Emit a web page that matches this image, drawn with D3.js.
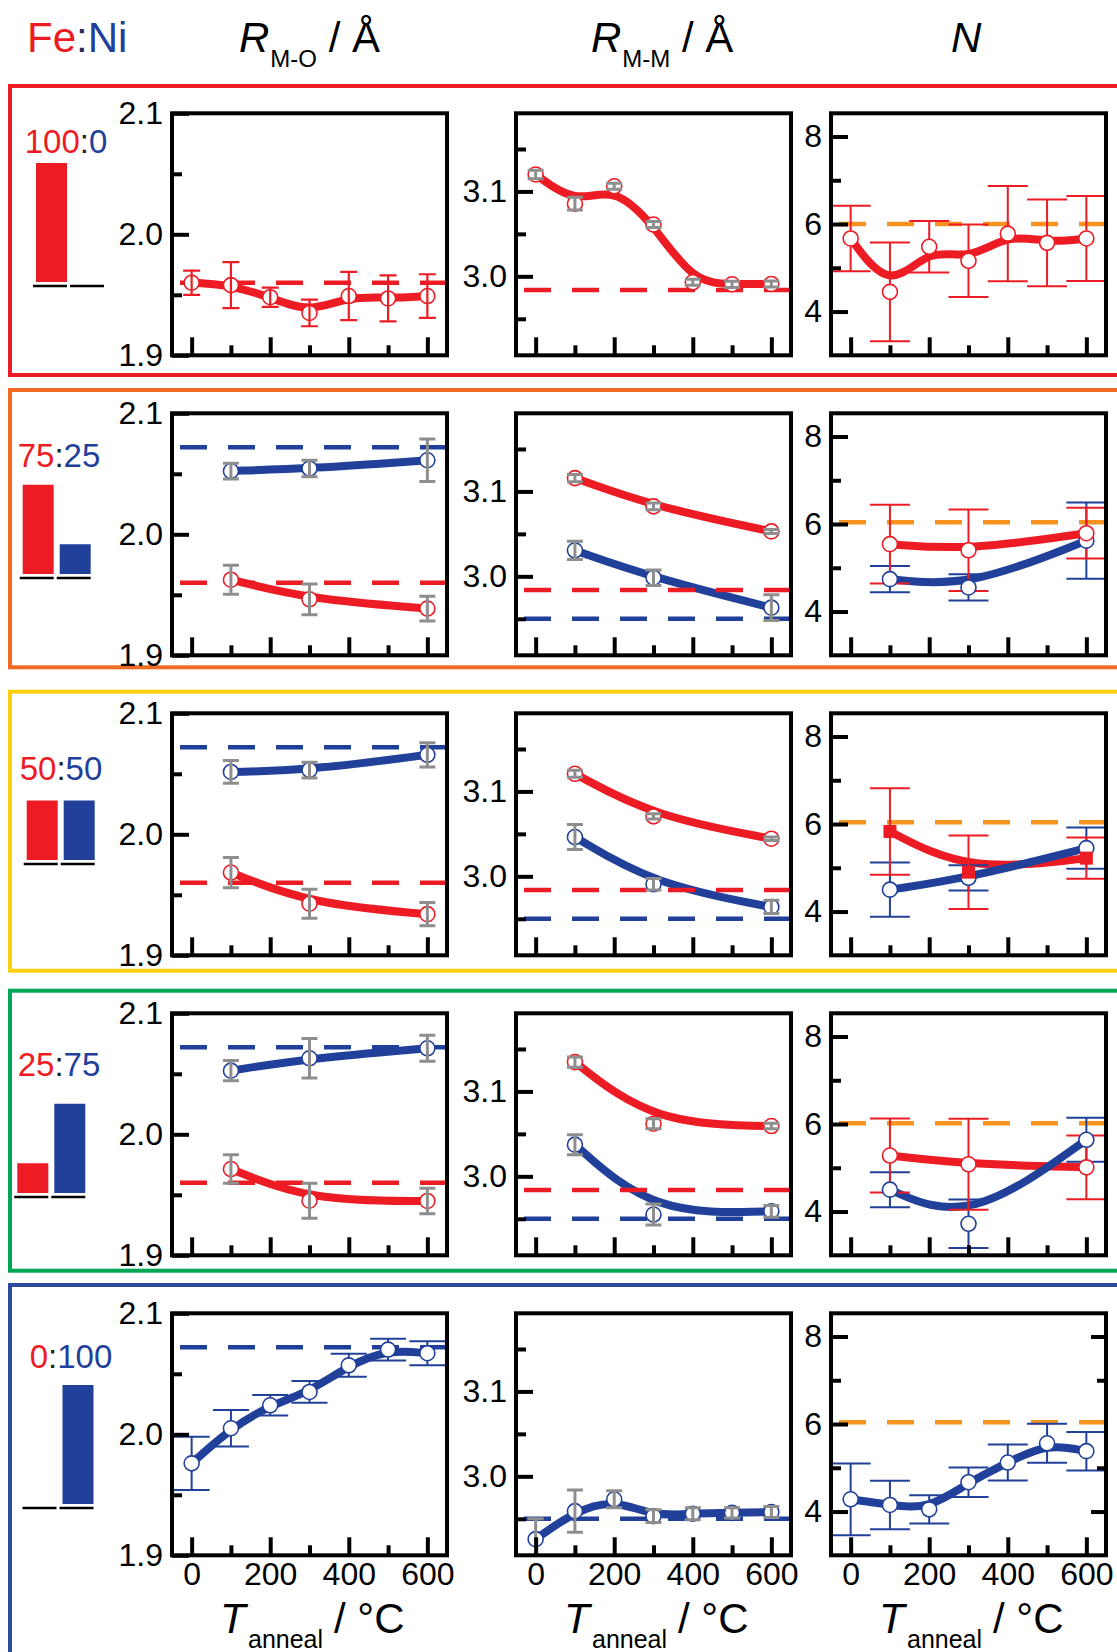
<!DOCTYPE html>
<html>
<head>
<meta charset="utf-8">
<script src="https://cdn.jsdelivr.net/npm/d3@7/dist/d3.min.js"></script>
<style>
  html, body { margin: 0; padding: 0; background: #fff; }
  svg { display: block; }
  text { font-family: "Liberation Sans", Arial, Helvetica, sans-serif; }
</style>
</head>
<body>
<svg id="fig" width="1117" height="1652"></svg>
<script>
// ---------------- data ----------------
// annealing temperatures (°C)
const tempsFull = [0, 100, 200, 300, 400, 500, 600];
const tempsAlloy = [100, 300, 600];
const xMajorTicks = [0, 200, 400, 600];
const xMinorTicks = [100, 300, 500];

// Fe:Ni composition of each row (at.%)
const compFe = [100, 75, 50, 25, 0];
const compNi = [0, 25, 50, 75, 100];

// reference values of the parent oxides
const refRmoFe = 1.960, refRmoNi = 2.072;
const refRmmFe = 2.984, refRmmNi = 2.950;
const refN = [6.00, 6.04, 6.04, 6.02, 6.04];

// 100:0
const r1RmoFe = [1.960, 1.958, 1.948, 1.935, 1.949, 1.947, 1.949];
const r1RmoFeErr = [0.010, 0.019, 0.008, 0.011, 0.020, 0.019, 0.018];
const r1RmmFe = [3.120, 3.0855, 3.106, 3.061, 2.993, 2.9906, 2.991];
const r1RmmFeErr = [0.005, 0.0075, 0.0035, 0.0035, 0.0035, 0.0037, 0.0035];
const r1NFe = [5.67, 4.45, 5.48, 5.16, 5.78, 5.57, 5.67];
const r1NFeErr = [0.75, 1.13, 0.59, 0.83, 1.09, 0.99, 0.97];

// 75:25
const r2RmoFe = [1.9625, 1.9463, 1.9386];
const r2RmoFeErr = [0.012, 0.0127, 0.0103];
const r2RmoNi = [2.0523, 2.0543, 2.0612];
const r2RmoNiErr = [0.0065, 0.0068, 0.0175];
const r2RmmFe = [3.1157, 3.0824, 3.0529];
const r2RmmFeErr = [0.0043, 0.004, 0.0024];
const r2RmmNi = [3.0306, 2.9984, 2.9631];
const r2RmmNiErr = [0.0108, 0.0092, 0.0151];
const r2NFe = [5.54, 5.40, 5.79];
const r2NFeErr = [0.90, 0.93, 0.58];
const r2NNi = [4.74, 4.55, 5.62];
const r2NNiErr = [0.30, 0.30, 0.87];

// 50:50
const r3RmoFe = [1.9684, 1.9426, 1.9340];
const r3RmoFeErr = [0.0125, 0.012, 0.0096];
const r3RmoNi = [2.0515, 2.0531, 2.0657];
const r3RmoNiErr = [0.0094, 0.0065, 0.010];
const r3RmmFe = [3.1208, 3.0706, 3.0443];
const r3RmmFeErr = [0.004, 0.003, 0.002];
const r3RmmNi = [3.0463, 2.9906, 2.9639];
const r3RmmNiErr = [0.0147, 0.0067, 0.0078];
const r3NFe = [5.83, 4.90, 5.22];
const r3NFeErr = [0.99, 0.84, 0.47];
const r3NNi = [4.50, 4.77, 5.45];
const r3NNiErr = [0.62, 0.29, 0.47];

// 25:75
const r4RmoFe = [1.9713, 1.9451, 1.9449];
const r4RmoFeErr = [0.0117, 0.0145, 0.0106];
const r4RmoNi = [2.0526, 2.0628, 2.0711];
const r4RmoNiErr = [0.0083, 0.0163, 0.0107];
const r4RmmFe = [3.1345, 3.062, 3.0592];
const r4RmmFeErr = [0.0059, 0.0059, 0.0033];
const r4RmmNi = [3.0373, 2.955, 2.9588];
const r4RmmNiErr = [0.0118, 0.0124, 0.0069];
const r4NFe = [5.28, 5.08, 5.01];
const r4NFeErr = [0.845, 1.04, 0.73];
const r4NNi = [4.50, 3.72, 5.64];
const r4NNiErr = [0.40, 0.555, 0.505];

// 0:100
const r5RmoNi = [1.976, 2.005, 2.024, 2.035, 2.057, 2.070, 2.067];
const r5RmoNiErr = [0.022, 0.015, 0.0085, 0.009, 0.0095, 0.009, 0.010];
const r5RmmNi = [2.926, 2.959, 2.973, 2.953, 2.956, 2.957, 2.958];
const r5RmmNiErr = [0.024, 0.025, 0.010, 0.0075, 0.007, 0.006, 0.0065];
const r5NNi = [4.28, 4.15, 4.05, 4.67, 5.12, 5.56, 5.38];
const r5NNiErr = [0.82, 0.555, 0.325, 0.335, 0.41, 0.445, 0.44];

// ---------------- styling / layout ----------------
const RED = "#ED1C24", BLUE = "#21409A", GRAY = "#8E8E8E", ORANGE = "#F7931E", INK = "#000";
const frameColors = [RED, "#F26A21", "#F9D00F", "#00A651", "#2C4A9F"];

const PANEL_LEFT = [172, 516, 831];
const PANEL_W = 275, PANEL_H = 242;
const ROW_TOP0 = 113.3, ROW_PITCH = 300;
const frameTop = [86, 390, 691.7, 990.7, 1285];
const frameBottom = [375, 667.3, 970.7, 1270.7, 1720];

const legendTextX = [66, 59, 61, 59, 71];
const legendTextY = [153, 467, 780, 1076, 1368];
const legendBarX = [36, 22.7, 26.7, 17.3, 25.5];
const legendBaseY = [286, 578, 864, 1197, 1508];

const TICK_FONT = 32;
const xDomain = [-50, 650];
const axisSpec = {
  rmo: { domain: [1.9, 2.1], major: [1.9, 2.0, 2.1], minor: [1.95, 2.05], fmt: d3.format(".1f") },
  rmm: { domain: [2.907, 3.192], major: [3.0, 3.1], minor: [2.95, 3.05, 3.15], fmt: d3.format(".1f") },
  n:   { domain: [3.0, 8.53], major: [4, 6, 8], minor: [5, 7], fmt: d3.format("d") }
};

const rows = [
  { t: tempsFull, panels: {
      rmo: { refs: [[refRmoFe, RED]], series: [{ y: r1RmoFe, e: r1RmoFeErr, c: RED }] },
      rmm: { refs: [[refRmmFe, RED]], series: [{ y: r1RmmFe, e: r1RmmFeErr, c: RED }] },
      n:   { refs: [[refN[0], ORANGE]], series: [{ y: r1NFe, e: r1NFeErr, c: RED }] } } },
  { t: tempsAlloy, panels: {
      rmo: { refs: [[refRmoNi, BLUE], [refRmoFe, RED]], series: [{ y: r2RmoFe, e: r2RmoFeErr, c: RED }, { y: r2RmoNi, e: r2RmoNiErr, c: BLUE }] },
      rmm: { refs: [[refRmmNi, BLUE], [refRmmFe, RED]], series: [{ y: r2RmmFe, e: r2RmmFeErr, c: RED }, { y: r2RmmNi, e: r2RmmNiErr, c: BLUE }] },
      n:   { refs: [[refN[1], ORANGE]], series: [{ y: r2NFe, e: r2NFeErr, c: RED }, { y: r2NNi, e: r2NNiErr, c: BLUE }] } } },
  { t: tempsAlloy, panels: {
      rmo: { refs: [[refRmoNi, BLUE], [refRmoFe, RED]], series: [{ y: r3RmoFe, e: r3RmoFeErr, c: RED }, { y: r3RmoNi, e: r3RmoNiErr, c: BLUE }] },
      rmm: { refs: [[refRmmNi, BLUE], [refRmmFe, RED]], series: [{ y: r3RmmFe, e: r3RmmFeErr, c: RED }, { y: r3RmmNi, e: r3RmmNiErr, c: BLUE }] },
      n:   { refs: [[refN[2], ORANGE]], series: [{ y: r3NFe, e: r3NFeErr, c: RED, square: true }, { y: r3NNi, e: r3NNiErr, c: BLUE }] } } },
  { t: tempsAlloy, panels: {
      rmo: { refs: [[refRmoNi, BLUE], [refRmoFe, RED]], series: [{ y: r4RmoFe, e: r4RmoFeErr, c: RED }, { y: r4RmoNi, e: r4RmoNiErr, c: BLUE }] },
      rmm: { refs: [[refRmmNi, BLUE], [refRmmFe, RED]], series: [{ y: r4RmmFe, e: r4RmmFeErr, c: RED }, { y: r4RmmNi, e: r4RmmNiErr, c: BLUE }] },
      n:   { refs: [[refN[3], ORANGE]], series: [{ y: r4NFe, e: r4NFeErr, c: RED }, { y: r4NNi, e: r4NNiErr, c: BLUE }] } } },
  { t: tempsFull, panels: {
      rmo: { refs: [[refRmoNi, BLUE]], series: [{ y: r5RmoNi, e: r5RmoNiErr, c: BLUE }] },
      rmm: { refs: [[refRmmNi, BLUE]], series: [{ y: r5RmmNi, e: r5RmmNiErr, c: BLUE }] },
      n:   { refs: [[refN[4], ORANGE]], series: [{ y: r5NNi, e: r5NNiErr, c: BLUE }] } } }
];

function errStyle(kind, ri, color) {
  if (kind === "n") return { stroke: color, cap: 20, width: 2, onTop: false };
  if (kind === "rmo" && ri === 0) return { stroke: color, cap: 8.5, width: 2.2, onTop: true };
  if (kind === "rmo" && ri === 4) return { stroke: color, cap: 18, width: 2, onTop: false };
  return { stroke: GRAY, cap: 8, width: 3, onTop: true };
}

// ---------------- drawing ----------------
const svg = d3.select("#fig");
svg.append("rect").attr("width", 1117).attr("height", 1652).attr("fill", "#fff");
const defs = svg.append("defs");

// coloured frame around each composition row
frameColors.forEach((c, ri) => {
  svg.append("rect")
    .attr("x", 10).attr("y", frameTop[ri])
    .attr("width", 1200).attr("height", frameBottom[ri] - frameTop[ri])
    .attr("fill", "none").attr("stroke", c).attr("stroke-width", 4);
});

// column headers
const head = svg.append("g").attr("fill", INK);
const feni = head.append("text").attr("x", 27).attr("y", 52).attr("font-size", 42);
feni.append("tspan").attr("fill", RED).text("Fe");
feni.append("tspan").attr("fill", "#2a2a5a").text(":");
feni.append("tspan").attr("fill", BLUE).text("Ni");

[["M-O", 239], ["M-M", 591]].forEach(([sub, hx]) => {
  const t = head.append("text").attr("x", hx).attr("y", 52).attr("font-size", 42);
  t.append("tspan").attr("font-style", "italic").text("R");
  t.append("tspan").attr("font-size", 24).attr("dy", 15).attr("dx", 1).text(sub);
  t.append("tspan").attr("dy", -15).text("\u00A0/ Å");
});
head.append("text").attr("x", 951).attr("y", 52).attr("font-size", 42)
  .attr("font-style", "italic").text("N");

function styleAxis(g) {
  g.select(".domain").remove();
  g.selectAll(".tick line").attr("stroke", INK).attr("stroke-width", 4);
  g.selectAll(".tick text").attr("fill", INK).attr("font-size", TICK_FONT)
    .attr("font-family", '"Liberation Sans", Arial, sans-serif');
  g.attr("font-family", null).attr("font-size", null);
}

function drawPanel(kind, ci, ri, row, top) {
  const spec = axisSpec[kind];
  const left = PANEL_LEFT[ci];
  const bottom = top + PANEL_H;
  const x = d3.scaleLinear().domain(xDomain).range([left, left + PANEL_W]);
  const y = d3.scaleLinear().domain(spec.domain).range([bottom, top]);
  const g = svg.append("g");
  const clipId = `clip-${ri}-${ci}`;
  defs.append("clipPath").attr("id", clipId).append("rect")
    .attr("x", left).attr("y", top).attr("width", PANEL_W).attr("height", PANEL_H);
  const plot = g.append("g").attr("clip-path", `url(#${clipId})`);

  const cfg = row.panels[kind];
  const series = cfg.series.map(s => ({
    ...s,
    pts: row.t.map((t, i) => ({ t, v: s.y[i], e: s.e[i] })),
    st: errStyle(kind, ri, s.c)
  }));

  // smoothed trend lines
  const line = d3.line().x(d => x(d.t)).y(d => y(d.v)).curve(d3.curveBasis);
  series.forEach(s => {
    plot.append("path").attr("d", line(s.pts)).attr("fill", "none")
      .attr("stroke", s.c).attr("stroke-width", 8).attr("stroke-linejoin", "round");
  });

  // dashed reference levels
  cfg.refs.forEach(([v, c]) => {
    plot.append("line").attr("x1", left + 8).attr("x2", left + PANEL_W)
      .attr("y1", y(v)).attr("y2", y(v))
      .attr("stroke", c).attr("stroke-width", 4.5).attr("stroke-dasharray", "27 21");
  });

  const drawErr = s => {
    const eg = plot.append("g").attr("stroke", s.st.stroke).attr("stroke-width", s.st.width).attr("fill", "none");
    eg.selectAll("line.v").data(s.pts).join("line").attr("class", "v")
      .attr("x1", d => x(d.t)).attr("x2", d => x(d.t))
      .attr("y1", d => y(d.v + d.e)).attr("y2", d => y(d.v - d.e));
    eg.selectAll("line.hi").data(s.pts).join("line").attr("class", "hi")
      .attr("x1", d => x(d.t) - s.st.cap).attr("x2", d => x(d.t) + s.st.cap)
      .attr("y1", d => y(d.v + d.e)).attr("y2", d => y(d.v + d.e));
    eg.selectAll("line.lo").data(s.pts).join("line").attr("class", "lo")
      .attr("x1", d => x(d.t) - s.st.cap).attr("x2", d => x(d.t) + s.st.cap)
      .attr("y1", d => y(d.v - d.e)).attr("y2", d => y(d.v - d.e));
  };
  const drawMarkers = s => {
    if (s.square) {
      plot.append("g").selectAll("rect").data(s.pts).join("rect")
        .attr("x", d => x(d.t) - 6.5).attr("y", d => y(d.v) - 6.5)
        .attr("width", 13).attr("height", 13).attr("fill", s.c);
    } else {
      plot.append("g").selectAll("circle").data(s.pts).join("circle")
        .attr("cx", d => x(d.t)).attr("cy", d => y(d.v)).attr("r", 7.5)
        .attr("fill", "#fff").attr("stroke", s.c).attr("stroke-width", 1.6);
    }
  };
  const rev = series.slice().reverse();
  rev.filter(s => !s.st.onTop).forEach(drawErr);
  rev.forEach(drawMarkers);
  rev.filter(s => s.st.onTop).forEach(drawErr);

  // axes with inward ticks
  const showX = ri === rows.length - 1;
  const gx = g.append("g").attr("transform", `translate(0,${bottom})`)
    .call(d3.axisBottom(x).tickValues(xMajorTicks).tickSize(-18).tickPadding(7)
      .tickFormat(showX ? d3.format("d") : () => ""));
  styleAxis(gx);
  const gxm = g.append("g").attr("transform", `translate(0,${bottom})`)
    .call(d3.axisBottom(x).tickValues(xMinorTicks).tickSize(-10).tickFormat(() => ""));
  styleAxis(gxm);

  const gy = g.append("g").attr("transform", `translate(${left},0)`)
    .call(d3.axisLeft(y).tickValues(spec.major).tickSize(-17).tickPadding(9).tickFormat(spec.fmt));
  styleAxis(gy);
  const gym = g.append("g").attr("transform", `translate(${left},0)`)
    .call(d3.axisLeft(y).tickValues(spec.minor).tickSize(-10).tickFormat(() => ""));
  styleAxis(gym);

  if (kind === "n" && showX) {
    const gr = g.append("g").attr("transform", `translate(${left + PANEL_W},0)`)
      .call(d3.axisRight(y).tickValues([4, 8]).tickSize(-15).tickFormat(() => ""));
    styleAxis(gr);
    const grm = g.append("g").attr("transform", `translate(${left + PANEL_W},0)`)
      .call(d3.axisRight(y).tickValues([5, 7]).tickSize(-9).tickFormat(() => ""));
    styleAxis(grm);
  }

  // panel frame
  g.append("rect").attr("x", left).attr("y", top).attr("width", PANEL_W).attr("height", PANEL_H)
    .attr("fill", "none").attr("stroke", INK).attr("stroke-width", 4);

  // x title on the bottom row
  if (showX) {
    const ox = left - PANEL_LEFT[0];
    const tg = g.append("g").attr("fill", INK);
    tg.append("text").attr("x", 220 + ox).attr("y", 1633).attr("font-size", 42)
      .attr("font-style", "italic").text("T");
    tg.append("text").attr("x", 248 + ox).attr("y", 1648).attr("font-size", 25).text("anneal");
    tg.append("text").attr("x", 334 + ox).attr("y", 1633).attr("font-size", 42).text("/ °C");
  }
}

const barH = d3.scaleLinear().domain([0, 100]).range([0, 119]);

function drawLegend(ri) {
  const g = svg.append("g");
  const t = g.append("text").attr("x", legendTextX[ri]).attr("y", legendTextY[ri])
    .attr("text-anchor", "middle").attr("font-size", 33);
  t.append("tspan").attr("fill", RED).text(compFe[ri]);
  t.append("tspan").attr("fill", "#222").text(":");
  t.append("tspan").attr("fill", BLUE).text(compNi[ri]);

  const parts = [[compFe[ri], RED], [compNi[ri], BLUE]];
  parts.forEach(([v, c], i) => {
    const bx = legendBarX[ri] + i * 37;
    const base = legendBaseY[ri];
    if (v > 0) {
      g.append("rect").attr("x", bx).attr("y", base - 4 - barH(v))
        .attr("width", 31).attr("height", barH(v)).attr("fill", c);
    }
    g.append("line").attr("x1", bx - 3).attr("x2", bx + 31).attr("y1", base).attr("y2", base)
      .attr("stroke", INK).attr("stroke-width", 2.5);
  });
}

rows.forEach((row, ri) => {
  const top = ROW_TOP0 + ri * ROW_PITCH;
  ["rmo", "rmm", "n"].forEach((kind, ci) => drawPanel(kind, ci, ri, row, top));
  drawLegend(ri);
});
</script>
</body>
</html>
